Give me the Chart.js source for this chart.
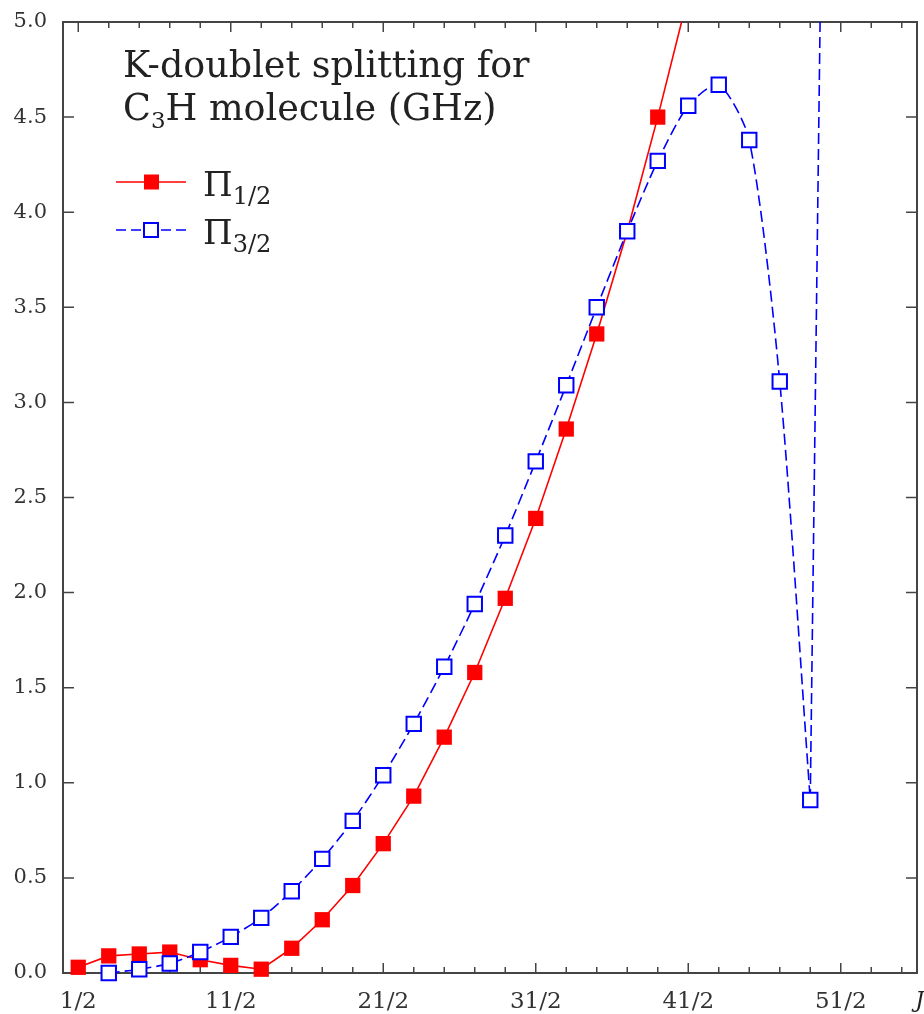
<!DOCTYPE html>
<html lang="en">

<head>
    <meta charset="UTF-8">
    <meta name="viewport" content="width=device-width, initial-scale=1.0">
    <script src="https://cdn.jsdelivr.net/npm/chart.js"></script>
    <title>K-doublet splitting for C3H</title>
    <style>
        html, body { margin: 0; background: #fff; overflow: hidden; }
        .chart-container { position: relative; width: 924px; height: 1014px; }
    </style>
</head>

<body>
    <div class="chart-container">
        <canvas id="myChart"></canvas>
    </div>
    <script>
        // J = n/2
        const jNumerators = [1, 3, 5, 7, 9, 11, 13, 15, 17, 19, 21, 23, 25, 27, 29, 31, 33, 35, 37, 39, 41, 43, 45, 47, 49, 51];

        // Pi 1/2, starts at J = 1/2
        const piOneHalf = [0.03, 0.09, 0.10, 0.11, 0.07, 0.04, 0.02, 0.13, 0.28, 0.46, 0.68, 0.93, 1.24, 1.58, 1.97,
            2.39, 2.86, 3.36, 3.90, 4.50, 5.14];

        // Pi 3/2, starts at J = 3/2
        const piThreeHalf = [0.00, 0.02, 0.05, 0.11, 0.19, 0.29, 0.43, 0.60, 0.80, 1.04, 1.31, 1.61, 1.94, 2.30,
            2.69, 3.09, 3.50, 3.90, 4.27, 4.56, 4.67, 4.38, 3.11, 0.91, 13.6];

        const xTickValues = [0.5, 5.5, 10.5, 15.5, 20.5, 25.5];
        const xTickLabels = ['1/2', '11/2', '21/2', '31/2', '41/2', '51/2'];

        const serif = "'DejaVu Serif', 'Liberation Serif', serif";

        const redPoints = piOneHalf.map((v, i) => ({ x: jNumerators[i] / 2, y: v }));
        const bluePoints = piThreeHalf.map((v, i) => ({ x: jNumerators[i + 1] / 2, y: v }));

        // frame, inward ticks, title and legend
        const decorations = {
            id: 'decorations',
            beforeDatasetsDraw(chart) {
                const { ctx, chartArea: a, scales: { x, y } } = chart;
                ctx.save();
                ctx.strokeStyle = '#444';
                ctx.lineWidth = 1.5;
                ctx.beginPath();
                jNumerators.concat([53, 55]).forEach(n => {
                    const px = x.getPixelForValue(n / 2);
                    if (px > a.right - 1) return;
                    const len = xTickValues.includes(n / 2) ? 10 : 6;
                    ctx.moveTo(px, a.bottom); ctx.lineTo(px, a.bottom - len);
                    ctx.moveTo(px, a.top); ctx.lineTo(px, a.top + len);
                });
                y.ticks.forEach(t => {
                    const py = y.getPixelForValue(t.value);
                    ctx.moveTo(a.left, py); ctx.lineTo(a.left + 11, py);
                    ctx.moveTo(a.right, py); ctx.lineTo(a.right - 11, py);
                });
                ctx.stroke();
                ctx.lineWidth = 2;
                ctx.strokeRect(a.left, a.top, a.right - a.left, a.bottom - a.top);
                ctx.restore();
            },
            afterDraw(chart) {
                const { ctx, chartArea: a } = chart;
                ctx.save();
                ctx.fillStyle = '#222';
                ctx.textBaseline = 'alphabetic';
                ctx.textAlign = 'left';

                // title
                const tx = a.left + 60;
                ctx.font = '36.5px ' + serif;
                ctx.fillText('K-doublet splitting for', tx, a.top + 55);
                ctx.fillText('C', tx, a.top + 98);
                let w = ctx.measureText('C').width;
                ctx.font = '23px ' + serif;
                ctx.fillText('3', tx + w, a.top + 106);
                w += ctx.measureText('3').width;
                ctx.font = '36.5px ' + serif;
                ctx.fillText('H molecule (GHz)', tx + w, a.top + 98);

                // legend
                const lx = a.left + 53;
                const rows = [
                    { y: a.top + 160, color: 'red', dash: [], fill: 'red', sub: '1/2' },
                    { y: a.top + 208, color: 'blue', dash: [10, 5], fill: '#fff', sub: '3/2' }
                ];
                rows.forEach(r => {
                    ctx.strokeStyle = r.color;
                    ctx.lineWidth = 1.5;
                    ctx.setLineDash(r.dash);
                    ctx.beginPath();
                    ctx.moveTo(lx, r.y); ctx.lineTo(lx + 70, r.y);
                    ctx.stroke();
                    ctx.setLineDash([]);
                    ctx.fillStyle = r.fill;
                    ctx.lineWidth = 2;
                    if (r.fill === 'red') {
                        ctx.fillRect(lx + 28, r.y - 7.5, 15, 15);
                    } else {
                        ctx.fillRect(lx + 28, r.y - 7, 14, 14);
                        ctx.strokeRect(lx + 28, r.y - 7, 14, 14);
                    }
                    ctx.fillStyle = '#222';
                    ctx.font = '34px ' + serif;
                    ctx.fillText('Π', lx + 87, r.y + 14);
                    const pw = ctx.measureText('Π').width;
                    ctx.font = '24px ' + serif;
                    ctx.fillText(r.sub, lx + 87 + pw, r.y + 22);
                });

                // axis name
                ctx.font = 'italic 22px ' + serif;
                ctx.textAlign = 'right';
                ctx.fillText('J', 924, 1007);
                ctx.restore();
            }
        };

        const data = {
            datasets: [{
                label: 'Π3/2',
                data: bluePoints.slice(0, 24),
                borderColor: 'blue',
                backgroundColor: '#fff',
                borderWidth: 1.6,
                borderDash: [11, 5],
                tension: 0.25,
                pointStyle: 'rect',
                pointRadius: 10.2,
                pointBorderWidth: 2,
                pointBorderColor: 'blue',
                pointBackgroundColor: '#fff',
                clip: { left: 15, top: 0, right: 0, bottom: 15 },
                order: 0
            }, {
                label: 'Π3/2 tail',
                data: bluePoints.slice(23),
                borderColor: 'blue',
                borderWidth: 1.6,
                borderDash: [11, 5],
                tension: 0,
                pointRadius: 0,
                clip: { left: 15, top: 0, right: 0, bottom: 15 },
                order: 1
            }, {
                label: 'Π1/2',
                data: redPoints,
                borderColor: 'red',
                backgroundColor: 'red',
                borderWidth: 1.6,
                tension: 0,
                pointStyle: 'rect',
                pointRadius: 10.8,
                pointBorderWidth: 0,
                pointBackgroundColor: 'red',
                clip: { left: 15, top: 0, right: 0, bottom: 15 },
                order: 2
            }]
        };

        const config = {
            type: 'line',
            data: data,
            options: {
                responsive: true,
                maintainAspectRatio: false,
                animation: false,
                layout: {
                    autoPadding: false,
                    padding: { top: 22, right: 7, bottom: 0, left: 0 }
                },
                plugins: {
                    legend: { display: false },
                    tooltip: { enabled: false }
                },
                scales: {
                    x: {
                        type: 'linear',
                        min: 0,
                        max: 28,
                        grid: { display: false, drawTicks: false },
                        border: { display: false },
                        afterBuildTicks: (scale) => {
                            scale.ticks = xTickValues.map(v => ({ value: v }));
                        },
                        afterFit: (scale) => {
                            scale.height = 41;
                            scale.paddingLeft = 0;
                            scale.paddingRight = 0;
                        },
                        ticks: {
                            autoSkip: false,
                            maxRotation: 0,
                            padding: 15,
                            color: '#333',
                            font: { family: serif, size: 23 },
                            callback: (v) => xTickLabels[xTickValues.indexOf(v)]
                        }
                    },
                    y: {
                        type: 'linear',
                        min: 0,
                        max: 5,
                        grid: { display: false, drawTicks: false },
                        border: { display: false },
                        afterFit: (scale) => {
                            scale.width = 63;
                            scale.paddingTop = 0;
                            scale.paddingBottom = 0;
                        },
                        ticks: {
                            stepSize: 0.5,
                            padding: 16,
                            color: '#333',
                            font: { family: serif, size: 21 },
                            callback: (v) => v.toFixed(1)
                        }
                    }
                }
            },
            plugins: [decorations]
        };

        const myChart = new Chart(
            document.getElementById('myChart'),
            config
        );
    </script>
</body>

</html>
